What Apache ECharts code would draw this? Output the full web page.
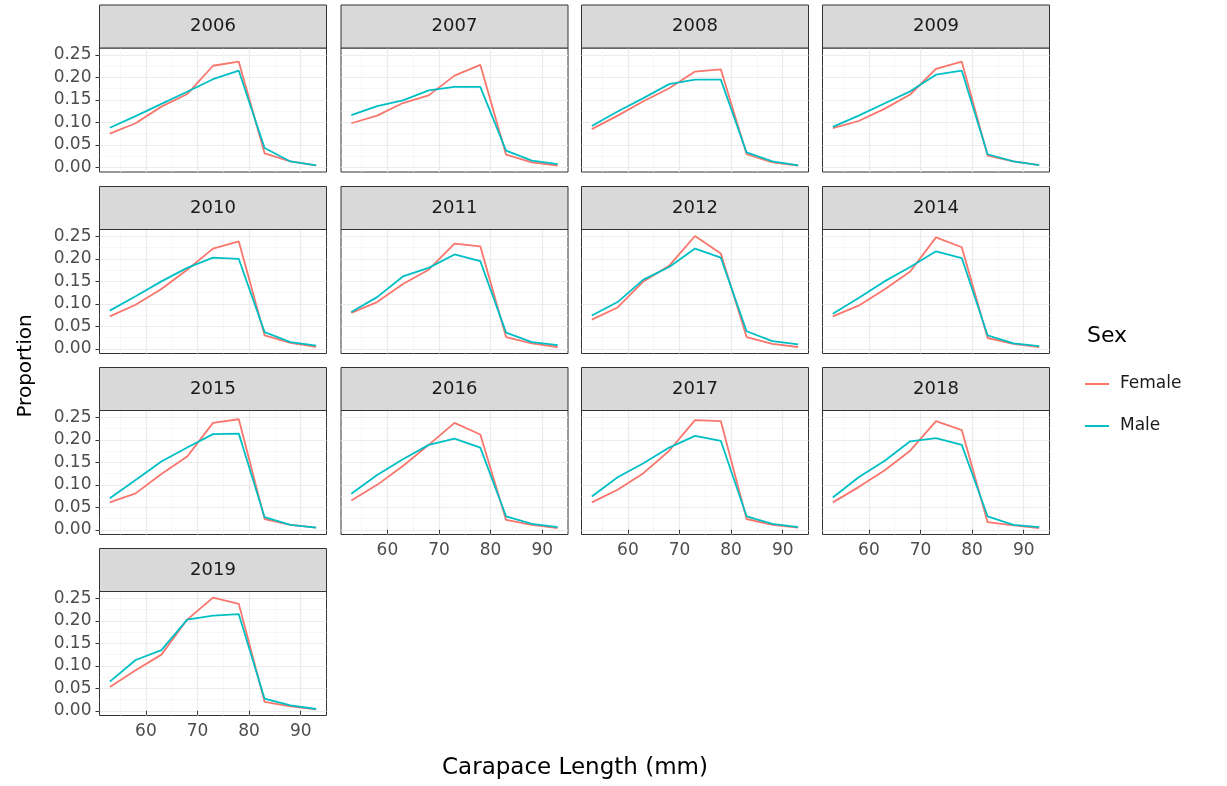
<!DOCTYPE html>
<html>
<head>
<meta charset="utf-8">
<title>Carapace length proportions</title>
<script src="https://cdn.jsdelivr.net/npm/echarts@6/dist/echarts.min.js"></script>
<style>
  html, body { margin: 0; padding: 0; background: #fff; }
  #main { width: 1227px; height: 786px; }
</style>
</head>
<body>
<div id="main"></div>
<script>
// carapace length classes (mm)
var lengths = [53, 58, 63, 68, 73, 78, 83, 88, 93];
var years = ['2006', '2007', '2008', '2009', '2010', '2011', '2012', '2014', '2015', '2016', '2017', '2018', '2019'];

// proportions, one pair per year
var female2006 = [0.075, 0.098, 0.135, 0.163, 0.226, 0.235, 0.031, 0.013, 0.004];
var male2006   = [0.088, 0.114, 0.141, 0.168, 0.196, 0.215, 0.043, 0.013, 0.004];
var female2007 = [0.098, 0.115, 0.143, 0.160, 0.204, 0.228, 0.028, 0.011, 0.004];
var male2007   = [0.116, 0.136, 0.149, 0.171, 0.179, 0.179, 0.037, 0.015, 0.007];
var female2008 = [0.085, 0.115, 0.147, 0.176, 0.213, 0.218, 0.029, 0.011, 0.004];
var male2008   = [0.092, 0.124, 0.154, 0.185, 0.195, 0.195, 0.033, 0.013, 0.004];
var female2009 = [0.087, 0.103, 0.130, 0.162, 0.219, 0.235, 0.026, 0.013, 0.005];
var male2009   = [0.090, 0.115, 0.142, 0.169, 0.206, 0.215, 0.029, 0.013, 0.005];
var female2010 = [0.072, 0.098, 0.133, 0.176, 0.223, 0.239, 0.030, 0.013, 0.004];
var male2010   = [0.085, 0.117, 0.150, 0.180, 0.203, 0.200, 0.037, 0.015, 0.007];
var female2011 = [0.080, 0.104, 0.144, 0.176, 0.234, 0.228, 0.026, 0.012, 0.004];
var male2011   = [0.082, 0.115, 0.161, 0.180, 0.210, 0.195, 0.036, 0.015, 0.008];
var female2012 = [0.065, 0.092, 0.150, 0.185, 0.251, 0.212, 0.026, 0.011, 0.004];
var male2012   = [0.074, 0.104, 0.154, 0.182, 0.223, 0.203, 0.039, 0.017, 0.010];
var female2014 = [0.072, 0.096, 0.132, 0.172, 0.248, 0.226, 0.024, 0.011, 0.004];
var male2014   = [0.078, 0.113, 0.150, 0.182, 0.217, 0.202, 0.030, 0.012, 0.006];
var female2015 = [0.061, 0.081, 0.124, 0.163, 0.238, 0.246, 0.024, 0.011, 0.005];
var male2015   = [0.070, 0.111, 0.152, 0.183, 0.213, 0.214, 0.028, 0.011, 0.005];
var female2016 = [0.065, 0.100, 0.142, 0.189, 0.238, 0.212, 0.022, 0.011, 0.004];
var male2016   = [0.080, 0.122, 0.157, 0.189, 0.203, 0.183, 0.030, 0.013, 0.006];
var female2017 = [0.061, 0.089, 0.126, 0.176, 0.244, 0.242, 0.024, 0.011, 0.005];
var male2017   = [0.074, 0.117, 0.148, 0.183, 0.209, 0.198, 0.030, 0.013, 0.006];
var female2018 = [0.061, 0.095, 0.132, 0.176, 0.242, 0.222, 0.017, 0.010, 0.004];
var male2018   = [0.072, 0.117, 0.153, 0.197, 0.204, 0.189, 0.030, 0.011, 0.006];
var female2019 = [0.053, 0.090, 0.125, 0.203, 0.252, 0.238, 0.020, 0.010, 0.003];
var male2019   = [0.065, 0.113, 0.135, 0.203, 0.212, 0.215, 0.027, 0.012, 0.004];

var femaleByYear = [female2006, female2007, female2008, female2009, female2010, female2011, female2012,
                    female2014, female2015, female2016, female2017, female2018, female2019];
var maleByYear = [male2006, male2007, male2008, male2009, male2010, male2011, male2012,
                  male2014, male2015, male2016, male2017, male2018, male2019];

// axis breaks
var xTicks = [60, 70, 80, 90];
var xMinor = [55, 65, 75, 85];
var yTicks = [0, 0.05, 0.10, 0.15, 0.20, 0.25];
var yMinor = [0.025, 0.075, 0.125, 0.175, 0.225];

var FONT = 'DejaVu Sans';
var colLeft = [99.5, 341, 581.5, 822.5];
var rowTop = [48, 229.5, 410.5, 591.5];
var panelW = 227;
var panelH = 124;
var stripH = 43;

function pairs(vals) {
    var out = [];
    for (var i = 0; i < lengths.length; i++) {
        out.push([lengths[i], vals[i]]);
    }
    return out;
}

function buildOption(textPad) {
    var grids = [], xAxes = [], yAxes = [], series = [], graphics = [];

    for (var i = 0; i < years.length; i++) {
        var col = i % 4;
        var row = Math.floor(i / 4);
        var left = colLeft[col];
        var top = rowTop[row];
        // last panel of each column carries the x labels
        var bottomPanel = (i + 4 >= years.length);
        var firstCol = (col === 0);

        grids.push({
            left: left, top: top, width: panelW, height: panelH,
            show: true, backgroundColor: '#ffffff',
            borderColor: '#333333', borderWidth: 1
        });

        // major grid + labels
        xAxes.push({
            type: 'value', gridIndex: i, min: 51, max: 95, position: 'bottom',
            axisLine: { show: false },
            axisTick: { show: bottomPanel, customValues: xTicks, length: 4, lineStyle: { color: '#333333' } },
            axisLabel: { show: bottomPanel, customValues: xTicks, margin: 8, color: '#4D4D4D', fontSize: 17, fontFamily: FONT },
            splitLine: { show: true, lineStyle: { color: '#EBEBEB', width: 1.2 } }
        });
        // minor grid only
        xAxes.push({
            type: 'value', gridIndex: i, min: 51, max: 95, position: 'top',
            axisLine: { show: false },
            axisTick: { show: false, customValues: xMinor },
            axisLabel: { show: false, customValues: xMinor },
            splitLine: { show: true, lineStyle: { color: '#F3F3F3', width: 0.7 } }
        });

        yAxes.push({
            type: 'value', gridIndex: i, min: -0.0105, max: 0.2655, position: 'left',
            axisLine: { show: false },
            axisTick: { show: firstCol, customValues: yTicks, length: 4, lineStyle: { color: '#333333' } },
            axisLabel: {
                show: firstCol, customValues: yTicks, margin: 8, color: '#4D4D4D', fontSize: 17, fontFamily: FONT,
                formatter: function (v) { return v.toFixed(2); }
            },
            splitLine: { show: true, lineStyle: { color: '#EBEBEB', width: 1.2 } }
        });
        yAxes.push({
            type: 'value', gridIndex: i, min: -0.0105, max: 0.2655, position: 'right',
            axisLine: { show: false },
            axisTick: { show: false, customValues: yMinor },
            axisLabel: { show: false, customValues: yMinor },
            splitLine: { show: true, lineStyle: { color: '#F3F3F3', width: 0.7 } }
        });

        series.push({
            name: 'Female', type: 'line', xAxisIndex: 2 * i, yAxisIndex: 2 * i,
            symbol: 'none', itemStyle: { color: '#F8766D' }, lineStyle: { width: 1.8, color: '#F8766D' },
            data: pairs(femaleByYear[i]), z: 3
        });
        series.push({
            name: 'Male', type: 'line', xAxisIndex: 2 * i, yAxisIndex: 2 * i,
            symbol: 'none', itemStyle: { color: '#00BFC4' }, lineStyle: { width: 1.8, color: '#00BFC4' },
            data: pairs(maleByYear[i]), z: 4
        });

        // facet strip
        graphics.push({
            type: 'rect',
            shape: { x: left, y: top - stripH, width: panelW, height: stripH },
            style: { fill: '#D9D9D9', stroke: '#333333', lineWidth: 1 },
            z: 10
        });
        graphics.push({
            type: 'text',
            x: left + panelW / 2, y: top - stripH / 2,
            style: { text: years[i], fill: '#1A1A1A', fontSize: 18, fontFamily: FONT, align: 'center', verticalAlign: 'middle' },
            z: 11
        });
    }

    // axis titles, legend title
    graphics.push({
        type: 'text', x: 26, y: 366, rotation: Math.PI / 2,
        style: { text: 'Proportion', fill: '#000000', fontSize: 20, fontFamily: FONT, align: 'center', verticalAlign: 'middle' }
    });
    graphics.push({
        type: 'text', x: 575, y: 768,
        style: { text: 'Carapace Length (mm)', fill: '#000000', fontSize: 23, fontFamily: FONT, align: 'center', verticalAlign: 'middle' }
    });
    graphics.push({
        type: 'text', x: 1087, y: 336,
        style: { text: 'Sex', fill: '#000000', fontSize: 22, fontFamily: FONT, align: 'left', verticalAlign: 'middle' }
    });

    var legendText = { color: '#1A1A1A', fontSize: 17, fontFamily: FONT, lineHeight: 20 };
    if (textPad) {
        legendText.padding = [0, 0, 0, 6];
    }

    return {
        backgroundColor: '#ffffff',
        animation: false,
        grid: grids,
        xAxis: xAxes,
        yAxis: yAxes,
        series: series,
        legend: {
            data: ['Female', 'Male'],
            orient: 'vertical',
            left: 1080, top: 369,
            icon: 'rect',
            itemWidth: 24, itemHeight: 2, itemGap: 22,
            textStyle: legendText
        },
        graphic: graphics
    };
}

var chart = echarts.init(document.getElementById('main'));
try {
    chart.setOption(buildOption(true));
} catch (e) {
    chart.dispose();
    chart = echarts.init(document.getElementById('main'));
    chart.setOption(buildOption(false));
}
</script>
</body>
</html>
